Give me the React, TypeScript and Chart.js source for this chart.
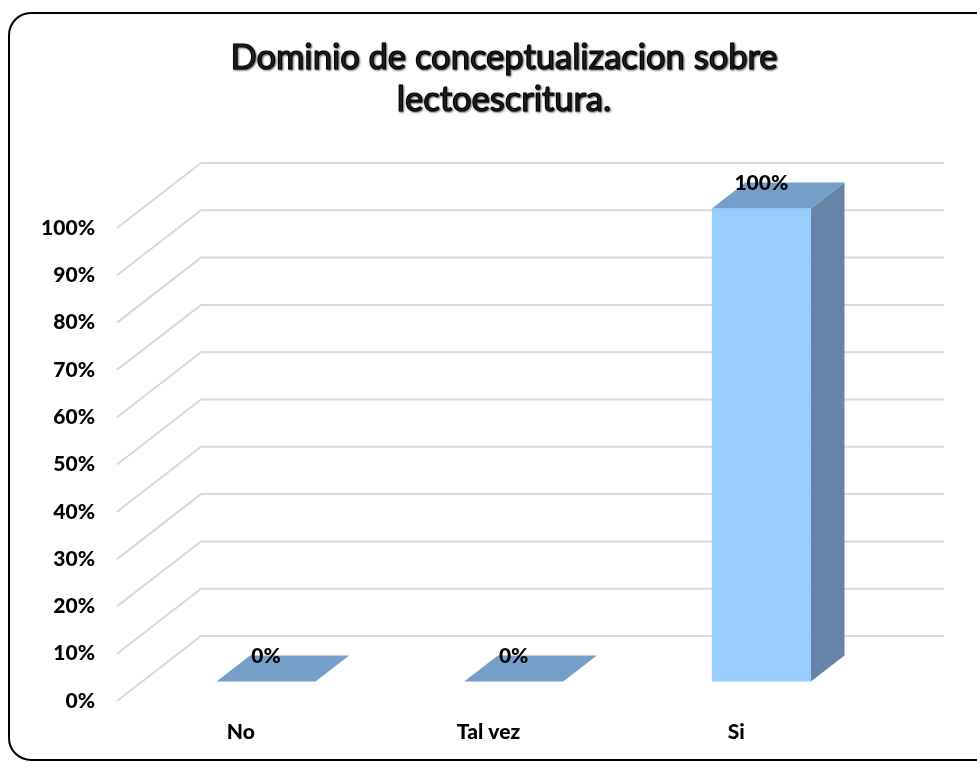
import React, { useEffect, useRef } from "react";
import { Chart, registerables } from "chart.js";

Chart.register(...registerables);

const titleLines = ["Dominio de conceptualizacion sobre", "lectoescritura."];
const categories = ["No", "Tal vez", "Si"];
const values = [0, 0, 100];
const yTicks = [0, 10, 20, 30, 40, 50, 60, 70, 80, 90, 100];

const DEPTH_X = 84;
const DEPTH_Y = -65;
const FONT = "Lato, 'Open Sans', sans-serif";

const threeD = {
  id: "threeD",
  beforeDraw(chart: any) {
    const ctx = chart.ctx;
    ctx.save();
    ctx.fillStyle = "#ffffff";
    ctx.fillRect(0, 0, chart.width, chart.height);
    // rounded border
    ctx.beginPath();
    ctx.lineWidth = 2;
    ctx.strokeStyle = "#000";
    (ctx as any).roundRect(9, 13, 1000, 747, 22);
    ctx.stroke();
    // title
    ctx.font = `34.5px ${FONT}`;
    ctx.textAlign = "center";
    ctx.textBaseline = "middle";
    ctx.fillStyle = "#2a2a2a";
    ctx.strokeStyle = "#000";
    ctx.lineWidth = 1.2;
    ctx.shadowColor = "rgba(0,0,0,0.55)";
    ctx.shadowBlur = 2;
    ctx.shadowOffsetX = 1;
    ctx.shadowOffsetY = 1;
    titleLines.forEach((t, i) => {
      ctx.fillText(t, 504, 58 + i * 42);
      ctx.strokeText(t, 504, 58 + i * 42);
    });
    ctx.restore();
  },
  beforeDatasetsDraw(chart: any) {
    const ctx = chart.ctx;
    const { left, right } = chart.chartArea;
    const ys = chart.scales.y;
    ctx.save();
    ctx.strokeStyle = "#D9D9D9";
    ctx.lineWidth = 2;
    yTicks.forEach((v) => {
      const y = ys.getPixelForValue(v);
      ctx.beginPath();
      ctx.moveTo(left, y);
      ctx.lineTo(left + DEPTH_X, y + DEPTH_Y);
      ctx.lineTo(right + DEPTH_X, y + DEPTH_Y);
      ctx.stroke();
    });
    ctx.restore();
  },
  afterDatasetsDraw(chart: any) {
    const ctx = chart.ctx;
    const meta = chart.getDatasetMeta(0);
    const fx = 0.3 * DEPTH_X;
    const fy = 0.3 * DEPTH_Y;
    const bx = 0.4 * DEPTH_X;
    const by = 0.4 * DEPTH_Y;
    ctx.save();
    meta.data.forEach((el: any, i: number) => {
      const { x, y, base, width } = el.getProps(["x", "y", "base", "width"], true);
      const x0 = x - width / 2 + fx;
      const x1 = x + width / 2 + fx;
      const yt = y + fy;
      const yb = base + fy;
      if (yb - yt > 0.5) {
        ctx.fillStyle = "#6584A8";
        ctx.beginPath();
        ctx.moveTo(x1, yb);
        ctx.lineTo(x1, yt);
        ctx.lineTo(x1 + bx, yt + by);
        ctx.lineTo(x1 + bx, yb + by);
        ctx.closePath();
        ctx.fill();
        ctx.fillStyle = "#99CCFF";
        ctx.fillRect(x0, yt, x1 - x0, yb - yt);
      }
      ctx.fillStyle = "#759FC8";
      ctx.beginPath();
      ctx.moveTo(x0, yt);
      ctx.lineTo(x1, yt);
      ctx.lineTo(x1 + bx, yt + by);
      ctx.lineTo(x0 + bx, yt + by);
      ctx.closePath();
      ctx.fill();
      ctx.fillStyle = "#000";
      ctx.font = `900 21px ${FONT}`;
      ctx.textAlign = "center";
      ctx.textBaseline = "middle";
      ctx.fillText(`${values[i]}%`, x + fx, yt + by + 1);
    });
    ctx.restore();
  },
};

export default function App() {
  const ref = useRef<HTMLCanvasElement>(null);
  useEffect(() => {
    document.body.style.margin = "0";
    const chart = new Chart(ref.current as HTMLCanvasElement, {
      type: "bar",
      data: {
        labels: categories,
        datasets: [
          {
            data: values,
            backgroundColor: "rgba(0,0,0,0)",
            borderWidth: 0,
            barPercentage: 0.4,
            categoryPercentage: 1,
          },
        ],
      },
      options: {
        responsive: false,
        animation: false,
        layout: { padding: { top: 228, right: 117, left: 0, bottom: 0 } },
        plugins: { legend: { display: false }, tooltip: { enabled: false }, title: { display: false } },
        scales: {
          x: {
            grid: { display: false },
            border: { display: false },
            ticks: { color: "#000", font: { family: FONT, size: 21, weight: "900" }, padding: 11, maxRotation: 0 },
            afterFit: (s: any) => {
              s.height = 61;
            },
          },
          y: {
            min: 0,
            max: 100,
            grid: { display: false },
            border: { display: false },
            ticks: {
              stepSize: 10,
              color: "#000",
              font: { family: FONT, size: 21, weight: "900" },
              padding: 14,
              callback: (v: any) => `${v}%`,
            },
            afterFit: (s: any) => {
              s.width = 117;
            },
          },
        },
      },
      plugins: [threeD],
    });
    return () => chart.destroy();
  }, []);
  return (
    <div style={{ position: "absolute", left: 0, top: 0 }}>
      <canvas ref={ref} width={977} height={762} style={{ display: "block" }} />
    </div>
  );
}
